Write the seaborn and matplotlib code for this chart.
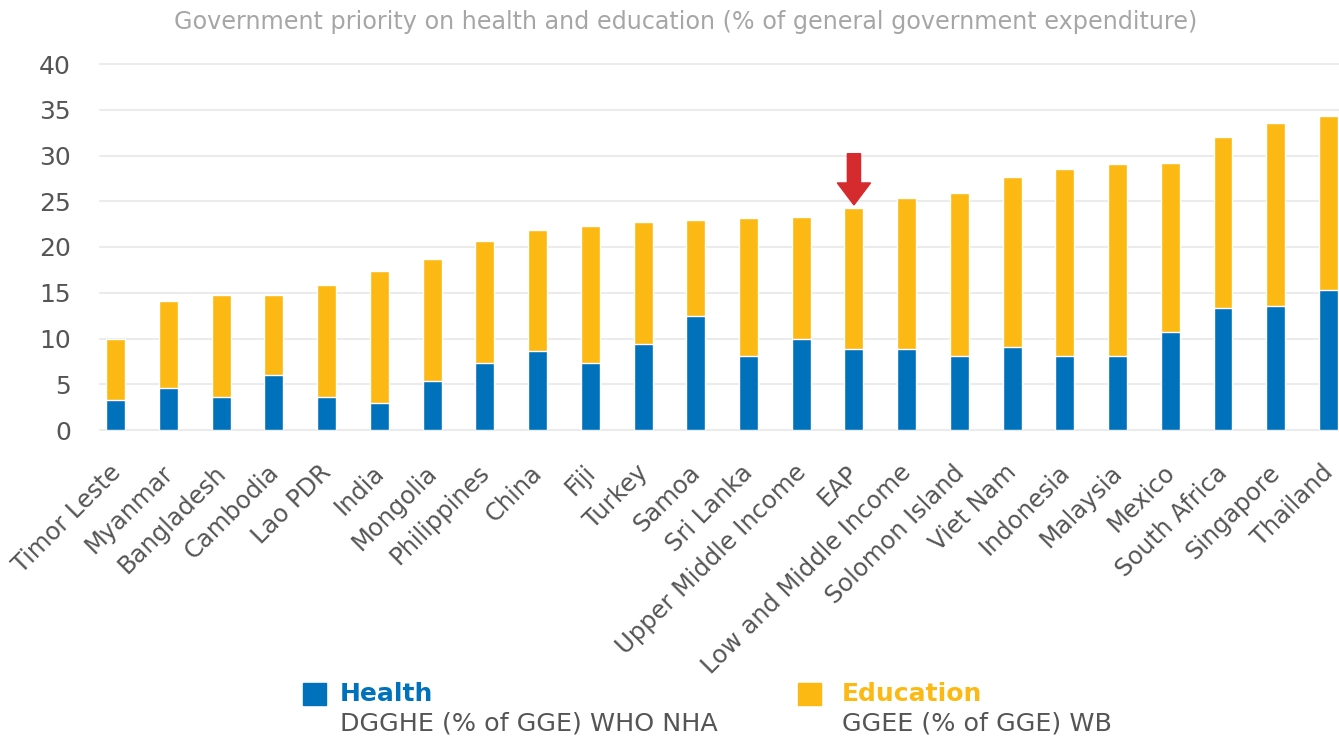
import numpy as np
import matplotlib
matplotlib.use('Agg')
import matplotlib.pyplot as plt
import matplotlib.transforms as mtransforms
import seaborn as sns
from matplotlib.patches import Rectangle, FancyArrow

countries = ['Timor Leste', 'Myanmar', 'Bangladesh', 'Cambodia', 'Lao PDR', 'India',
             'Mongolia', 'Philippines', 'China', 'Fiji', 'Turkey', 'Samoa', 'Sri Lanka',
             'Upper Middle Income', 'EAP', 'Low and Middle Income', 'Solomon Island',
             'Viet Nam', 'Indonesia', 'Malaysia', 'Mexico', 'South Africa', 'Singapore',
             'Thailand']
health = [3.3, 4.6, 3.6, 6.0, 3.6, 3.0, 5.4, 7.3, 8.6, 7.3, 9.4, 12.5, 8.1,
          9.9, 8.9, 8.9, 8.1, 9.1, 8.1, 8.1, 10.7, 13.3, 13.5, 15.3]
education = [6.6, 9.5, 11.1, 8.8, 12.2, 14.4, 13.3, 13.4, 13.3, 15.0, 13.3, 10.5, 15.1,
             13.4, 15.4, 16.5, 17.8, 18.6, 20.4, 21.0, 18.5, 18.7, 20.0, 19.0]
yticks = [0, 5, 10, 15, 20, 25, 30, 35, 40]
highlight = 'EAP'

blue = '#0072bc'
orange = '#fdb913'
red = '#d52b2f'
grey_text = '#555555'

total = np.array(health) + np.array(education)

sns.set_style('white')
plt.rcParams['font.family'] = ['DejaVu Sans']

fig = plt.figure(figsize=(13.39, 7.37), dpi=100)
ax = fig.add_axes([100 / 1339, 1 - 430 / 737, 1 - 100 / 1339, 366 / 737])

sns.barplot(x=countries, y=total, color=orange, saturation=1, width=0.36, ax=ax, zorder=3)
sns.barplot(x=countries, y=health, color=blue, saturation=1, width=0.36, ax=ax, zorder=4)

ax.set_xlim(-0.30, 23.2)
ax.set_ylim(0, 40)
ax.set_yticks(yticks)
for v in yticks:
    ax.axhline(v, color='#ebebeb', lw=1.5, zorder=1, clip_on=False)
sns.despine(ax=ax, left=True, bottom=True)
ax.tick_params(axis='y', length=0, pad=21, labelsize=18, labelcolor=grey_text)
ax.tick_params(axis='x', length=0, pad=28, labelsize=17.4, labelcolor=grey_text)
ax.set_xlabel('')
ax.set_ylabel('')
shift = mtransforms.ScaledTranslation(1 / 100, 0, fig.dpi_scale_trans)
for lbl in ax.get_xticklabels():
    lbl.set_rotation(45)
    lbl.set_ha('right')
    lbl.set_va('center')
    lbl.set_rotation_mode('anchor')
    lbl.set_transform(lbl.get_transform() + shift)

# red arrow over EAP
i = countries.index(highlight)
ax.add_patch(FancyArrow(i, 30.2, 0, -5.6, width=0.25, head_width=0.63, head_length=2.4,
                        length_includes_head=True, color=red, zorder=5, clip_on=False))

fig.text(686 / 1339, 1 - 22 / 737, 'Government priority on health and education (% of general government expenditure)',
         ha='center', va='center', fontsize=17.2, color='#a6a6a6')

# legend
fig.patches.append(Rectangle((303 / 1339, 1 - 705 / 737), 23 / 1339, 22 / 737,
                             transform=fig.transFigure, color=blue))
fig.patches.append(Rectangle((798 / 1339, 1 - 705 / 737), 23 / 1339, 22 / 737,
                             transform=fig.transFigure, color=orange))
fig.text(340 / 1339, 1 - 694 / 737, 'Health', ha='left', va='center', fontsize=18,
         fontweight='bold', color=blue)
fig.text(340 / 1339, 1 - 723 / 737, 'DGGHE (% of GGE) WHO NHA', ha='left', va='center',
         fontsize=18.3, color=grey_text)
fig.text(842 / 1339, 1 - 694 / 737, 'Education', ha='left', va='center', fontsize=18,
         fontweight='bold', color=orange)
fig.text(842 / 1339, 1 - 723 / 737, 'GGEE (% of GGE) WB', ha='left', va='center',
         fontsize=18.3, color=grey_text)

plt.savefig('out.png', dpi=100)
